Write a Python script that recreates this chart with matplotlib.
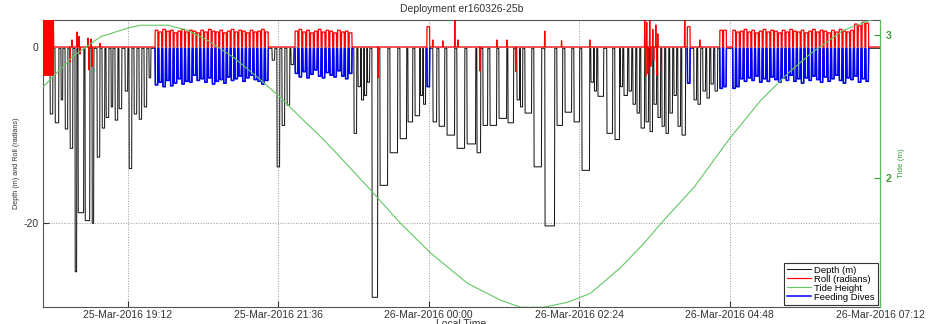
import numpy as np
import matplotlib
matplotlib.use('Agg')
import matplotlib.pyplot as plt
import matplotlib.dates as mdates
from datetime import datetime

plt.rcParams['font.family'] = ['Liberation Sans', 'DejaVu Sans']
plt.rcParams['axes.unicode_minus'] = False

# all dive / roll times are minutes after this moment
t_origin = datetime(2016, 3, 25, 17, 50)
x_first_min = 0.7
x_last = datetime(2016, 3, 26, 7, 12)
x_ticks = [datetime(2016, 3, 25, 19, 12), datetime(2016, 3, 25, 21, 36),
           datetime(2016, 3, 26, 0, 0), datetime(2016, 3, 26, 2, 24),
           datetime(2016, 3, 26, 4, 48), datetime(2016, 3, 26, 7, 12)]

# tide height (m) at clock times
tide_clock = ['17:51', '18:19', '18:46', '19:12', '19:24', '19:50', '20:09', '20:28',
              '20:53', '21:16', '21:38', '21:57', '22:17', '22:29', '23:02', '23:33',
              '00:02', '00:37', '01:09', '01:28', '01:50', '02:13', '02:35', '03:04',
              '03:26', '03:45', '04:14', '04:49', '05:18', '05:44', '06:06', '06:37',
              '07:03', '07:12']
tide_height = [2.64, 2.85, 2.99, 3.05, 3.07, 3.07, 3.035, 2.965,
               2.846, 2.706, 2.566, 2.427, 2.287, 2.196, 1.937, 1.685,
               1.476, 1.266, 1.147, 1.098, 1.098, 1.133, 1.196, 1.378,
               1.545, 1.706, 1.937, 2.287, 2.545, 2.734, 2.874, 3.035,
               3.105, 3.12]

# non-feeding dives: start / end (min) and bottom depth (m)
dive_start = [7.4, 12.2, 17.9, 21.8, 26.5, 31.3, 34.2, 40.9, 47.6, 52.4, 57.2, 61.0,
              65.8, 69.6, 73.4, 79.2, 83.0, 87.8, 92.6, 97.4, 102.1,
              219.9, 224.6, 229.4, 234.2, 238.0,
              298.3, 302.2, 305.4, 308.3, 311.2, 315.6, 323.2, 332.8, 342.4, 350.0,
              356.7, 361.9, 364.8, 373.9, 379.7, 387.3, 396.9, 406.5, 416.0, 421.8,
              428.5, 437.1, 445.7, 454.3, 457.6, 462.0, 470.6, 481.1, 492.6, 500.3,
              508.9, 516.5, 525.1, 528.4, 531.8, 540.4, 548.1,
              553.3, 556.7, 561.5, 565.3, 569.2, 573.0, 577.8, 581.6, 585.4, 589.2,
              593.1, 596.9, 600.7, 604.6, 608.4, 612.2, 623.7, 627.5, 632.3, 636.1,
              640.0, 643.8]
dive_end = [10.3, 16.0, 19.8, 24.6, 29.4, 33.2, 39.9, 45.7, 49.5, 55.3, 60.0, 63.9,
            67.7, 72.5, 76.3, 82.0, 85.9, 90.7, 95.4, 100.2, 104.1,
            222.7, 227.5, 232.3, 237.1, 240.9,
            301.2, 305.0, 307.9, 310.8, 313.6, 321.3, 330.9, 340.4, 349.0, 354.8,
            361.5, 364.4, 367.2, 377.8, 385.4, 395.0, 404.6, 415.1, 419.9, 426.6,
            435.2, 444.8, 451.4, 457.2, 460.1, 468.7, 478.2, 490.7, 498.3, 507.0,
            514.6, 524.2, 528.0, 530.9, 537.6, 546.2, 552.9,
            555.8, 560.5, 564.4, 568.2, 572.0, 576.8, 580.6, 584.5, 588.3, 592.1,
            595.9, 599.8, 603.6, 607.4, 611.3, 616.0, 626.6, 630.4, 635.2, 639.0,
            642.8, 646.7]
dive_depth = [-7.6, -8.6, -6.0, -9.3, -11.5, -25.5, -18.8, -19.7, -20.0, -12.5, -9.2, -8.0,
              -6.8, -8.3, -7.0, -5.0, -13.8, -7.6, -8.2, -6.8, -3.5,
              -1.5, -13.6, -8.9, -6.6, -2.0,
              -9.8, -4.5, -6.0, -5.5, -4.0, -28.4, -15.7, -12.0, -10.4, -8.5,
              -7.8, -5.5, -6.5, -8.5, -9.0, -10.0, -11.5, -11.0, -12.0, -8.9,
              -8.9, -8.1, -8.6, -6.0, -6.8, -7.5, -13.6, -20.3, -8.9, -7.4,
              -8.5, -14.0, -4.0, -5.0, -5.6, -9.8, -10.5,
              -4.5, -5.5, -5.0, -6.5, -7.5, -9.2, -8.5, -9.6, -6.5, -8.0,
              -9.0, -9.8, -7.5, -5.5, -9.0, -10.0, -6.0, -6.5, -5.0, -5.8,
              -4.2, -5.0]

# feeding dives (start min, depth m, roll radians), each about 2.8 min long
feed_len = 2.8
feed1_start = [108.0, 111.6, 115.3, 118.9, 122.6, 126.2, 129.8, 133.5, 137.1, 140.8,
               144.4, 148.0, 151.7, 155.3, 159.0, 162.6, 166.2, 169.9, 173.5, 177.2,
               180.8, 184.4, 188.1, 191.7, 195.4, 199.0, 202.6, 206.3, 209.9, 213.6]
feed1_depth = [-4.3, -4.0, -4.5, -3.8, -4.4, -4.1, -3.6, -4.2, -3.9, -4.0,
               -3.2, -3.8, -3.6, -4.0, -3.5, -4.2, -3.9, -3.7, -4.1, -3.4,
               -3.8, -3.6, -3.3, -3.9, -3.5, -3.2, -3.7, -3.9, -4.2, -3.8]
feed1_roll = [1.9, 1.7, 2.0, 1.8, 1.9, 1.6, 1.8, 2.0, 1.7, 1.9, 1.8, 1.6, 1.9, 1.7, 2.0,
              1.8, 1.7, 1.9, 1.6, 1.8, 2.0, 1.7, 1.9, 1.8, 1.6, 1.9, 1.7, 1.8, 2.0, 1.7]
feed2_start = [242.0, 245.7, 249.4, 253.1, 256.8, 260.5, 264.2, 267.9, 271.6, 275.3,
               279.0, 282.7, 286.4, 290.1, 293.8]
feed2_depth = [-3.0, -3.4, -2.8, -3.5, -3.1, -2.6, -3.3, -3.5, -2.9, -3.2,
               -3.4, -2.7, -3.3, -3.6, -3.0]
feed2_roll = [1.8, 2.0, 1.7, 1.9, 1.6, 1.8, 2.0, 1.7, 1.9, 1.8, 1.6, 1.9, 1.7, 1.8, 1.6]
feed_odd_start = [368.2, 617.5, 648.6, 652.2]
feed_odd_depth = [-4.5, -4.1, -4.7, -4.5]
feed_odd_roll = [2.3, 2.3, 1.9, 1.9]
feed3_start = [661.0, 664.6, 668.3, 671.9, 675.6, 679.2, 682.8, 686.5, 690.1, 693.8,
               697.4, 701.0, 704.7, 708.3, 712.0, 715.6, 719.2, 722.9, 726.5, 730.2,
               733.8, 737.4, 741.1, 744.7, 748.4, 752.0, 755.6, 759.3, 762.9, 766.6,
               770.2, 773.8, 777.5, 781.1, 784.8, 788.4]
feed3_depth = [-4.7, -4.5, -3.6, -3.9, -3.5, -3.8, -3.3, -4.0, -3.6, -3.9,
               -3.4, -3.7, -4.0, -3.5, -3.8, -3.2, -3.9, -3.6, -4.1, -3.5,
               -3.8, -3.3, -3.7, -4.0, -3.4, -3.9, -3.6, -3.2, -3.8, -4.1,
               -3.5, -3.7, -3.3, -4.0, -3.6, -3.9]
feed3_roll = [1.9, 1.7, 1.8, 2.0, 1.7, 1.9, 1.6, 1.8, 2.0, 1.7, 1.9, 1.8, 1.6, 1.9, 1.7,
              2.0, 1.8, 1.7, 1.9, 1.6, 1.8, 2.0, 1.7, 1.9, 1.8, 1.6, 1.9, 1.7, 2.0, 1.8,
              1.7, 1.9, 2.6, 2.4, 2.8, 2.7]

# roll while the tag was being handled at the start
roll_tag_t = [0.7, 1.2, 1.7, 2.2, 2.7, 3.2, 3.7, 4.2, 4.7, 5.2, 5.7, 6.2, 6.7, 7.2,
              7.7, 8.2, 8.7, 9.2, 9.7, 10.2, 10.7]
roll_tag_v = [3.1, -3.2, 3.1, -3.2, 3.1, -3.2, 3.1, -3.2, 3.1, -3.2, 3.1, -3.2, 3.1,
              -3.2, 3.1, -3.2, 3.1, -3.2, 3.1, -3.2, 3.1]
# isolated roll spikes (min, radians)
spike_t = [26.5, 28.5, 33.2, 35.2, 36.1, 43.8, 44.7, 46.6, 47.6, 55.3,
           321.3, 373.9, 383.5, 395.0, 397.9, 418.9, 435.2, 444.8, 453.3, 481.1,
           497.2, 524.2, 576.8, 577.8, 578.7, 579.7, 581.6, 582.6, 584.5, 585.4,
           587.4, 588.3, 589.3, 615.1, 629.5]
spike_v = [-1.7, 0.8, 1.7, 1.2, -0.8, 1.0, -2.6, 0.9, -2.2, 0.4,
           -3.5, 0.8, 0.7, 3.05, 0.8, -2.7, 0.8, 0.8, -2.8, 1.8,
           0.7, 0.8, 3.1, -3.3, 2.8, -3.0, 3.1, -2.2, 2.0, -1.5,
           2.5, -3.2, 1.5, 3.1, 0.8]

end_min = (x_last - t_origin).total_seconds() / 60.0
base = mdates.date2num(t_origin)


def to_num(minutes):
    return base + np.asarray(minutes, dtype=float) / 1440.0


def dive_trace(starts, ends, depths, surface=-0.15):
    t, d = [], []
    for s, e, z in sorted(zip(starts, ends, depths)):
        t += [s, s + 0.3, e - 0.3, e]
        d += [surface, z, z, surface]
    return t, d


feed_blocks = [(feed1_start, feed1_depth, feed1_roll), (feed2_start, feed2_depth, feed2_roll),
               (feed_odd_start, feed_odd_depth, feed_odd_roll), (feed3_start, feed3_depth, feed3_roll)]

# full depth record
all_s = list(dive_start)
all_e = list(dive_end)
all_d = list(dive_depth)
for fs, fd, fr in feed_blocks:
    all_s += fs
    all_e += [s + feed_len for s in fs]
    all_d += fd
dt, dd = dive_trace(all_s, all_e, all_d)
dt = [x_first_min] + dt + [end_min]
dd = [-0.15] + dd + [-0.15]

# feeding dive overlay (lone feeding dives are drawn on their own)
blue_t, blue_d = [], []
for fs, fd, fr in feed_blocks:
    if fs is feed_odd_start:
        for s, z in zip(fs, fd):
            t, d = dive_trace([s], [s + feed_len], [z])
            blue_t += t + [np.nan]
            blue_d += d + [np.nan]
        continue
    t, d = dive_trace(fs, [s + feed_len for s in fs], fd)
    blue_t += t + [np.nan]
    blue_d += d + [np.nan]

# roll record
groups = [(roll_tag_t[0], list(roll_tag_t) + [11.0], list(roll_tag_v) + [0.0])]
for t, v in zip(spike_t, spike_v):
    groups.append((t - 0.3, [t - 0.3, t, t + 0.3], [0.0, v, 0.0]))
for fs, fd, fr in feed_blocks:
    for s, r in zip(fs, fr):
        groups.append((s, [s, s + 0.15, s + feed_len - 0.15, s + feed_len], [0.0, r, r, 0.0]))
groups.sort(key=lambda g: g[0])
roll_t, roll_v = [], []
for _, t, v in groups:
    roll_t += t
    roll_v += v
roll_t.append(end_min)
roll_v.append(0.0)

tide_num = []
for c in tide_clock:
    hh, mm = int(c[:2]), int(c[3:])
    day = 25 if hh >= 12 else 26
    tide_num.append(mdates.date2num(datetime(2016, 3, day, hh, mm)))

fig = plt.figure(figsize=(9.3, 3.24), dpi=100)
ax = fig.add_axes([0.0462, 0.0525, 0.9, 0.886])

h_depth, = ax.plot(to_num(dt), dd, color='#1a1a1a', lw=0.75, zorder=2)
h_feed, = ax.plot(to_num(blue_t), blue_d, color='#0000ff', lw=1.1, zorder=3)
h_roll, = ax.plot(to_num(roll_t), roll_v, color='#ff0000', lw=0.9, zorder=4)

ax.set_xlim(to_num(x_first_min), mdates.date2num(x_last))
ax.set_ylim(-29.5, 3.07)
ax.set_yticks([-20, 0])
ax.set_xticks(mdates.date2num(x_ticks))
ax.xaxis.set_major_formatter(mdates.DateFormatter('%d-%b-%Y %H:%M'))
ax.grid(True, linestyle=':', color='#9a9a9a', lw=0.7)
ax.tick_params(direction='in', length=4, labelsize=7.5, colors='#333333', pad=2)
ax.tick_params(axis='y', pad=3)
for side in ['left', 'top', 'bottom']:
    ax.spines[side].set_color('#555555')
    ax.spines[side].set_linewidth(0.8)
ax.spines['right'].set_visible(False)

ax.set_title('Deployment er160326-25b', fontsize=7.5, color='#333333', pad=6)
ax.set_xlabel('Local Time', fontsize=7.5, color='#333333')
ax.xaxis.set_label_coords(0.5, -0.042)
ax.set_ylabel('Depth (m) and Roll (radians)', fontsize=5.2, color='#333333')
ax.yaxis.set_label_coords(-0.027, 0.5)

ax2 = ax.twinx()
h_tide, = ax2.plot(tide_num, tide_height, color='#62c862', lw=0.8)
ax2.set_ylim(1.1, 3.107)
ax2.set_yticks([2, 3])
ax2.tick_params(direction='in', length=4, labelsize=7.5, colors='#3a9a3a', pad=4)
for lab in ax2.get_yticklabels():
    lab.set_fontweight('bold')
for side in ['left', 'top', 'bottom']:
    ax2.spines[side].set_visible(False)
ax2.spines['right'].set_color('#55c055')
ax2.spines['right'].set_linewidth(0.9)
ax2.set_ylabel('Tide (m)', fontsize=5.8, color='#3a9a3a')
ax2.yaxis.set_label_coords(1.021, 0.5)

leg = ax2.legend([h_depth, h_roll, h_tide, h_feed],
                 ['Depth (m)', 'Roll (radians)', 'Tide Height', 'Feeding Dives'],
                 loc='lower right', fontsize=6.8, handlelength=2.6, labelspacing=0.0,
                 borderpad=0.3, handletextpad=0.3, borderaxespad=0.25,
                 fancybox=False, framealpha=1, edgecolor='#333333')
leg.get_frame().set_linewidth(0.8)

fig.savefig('out.png', dpi=100)
